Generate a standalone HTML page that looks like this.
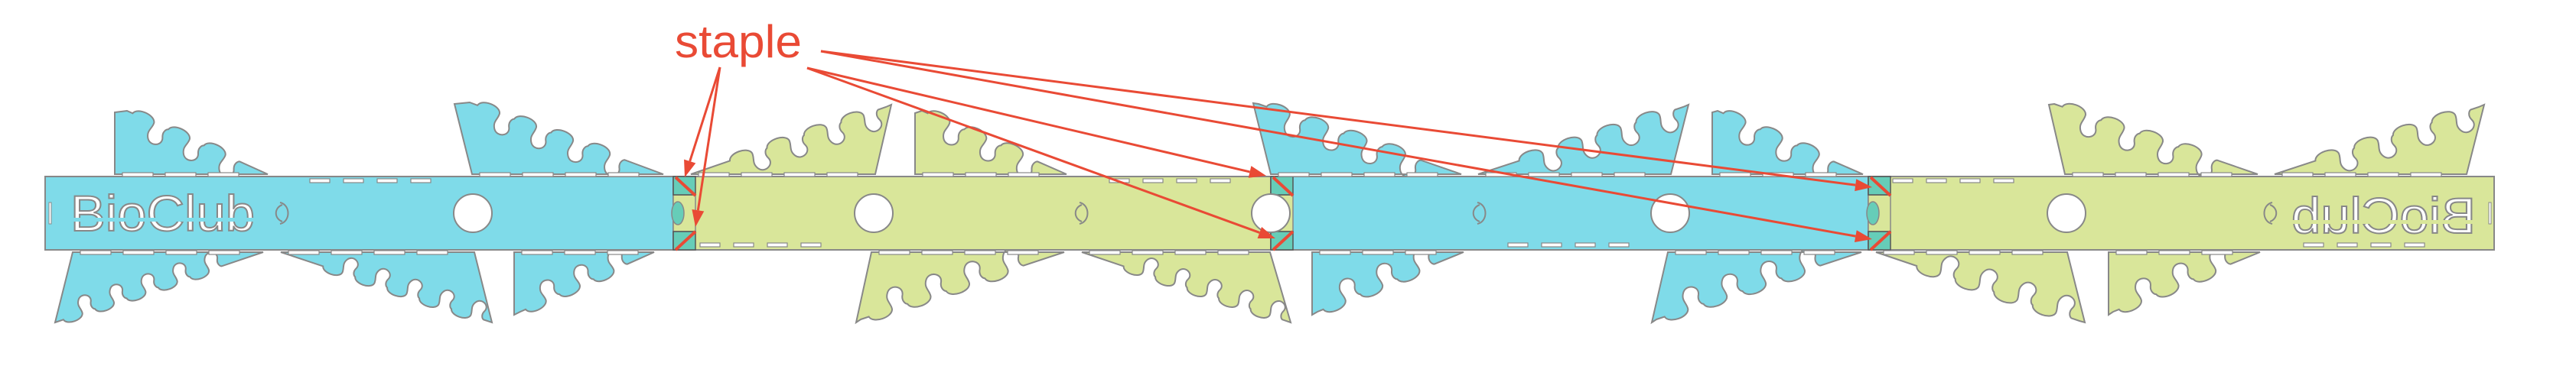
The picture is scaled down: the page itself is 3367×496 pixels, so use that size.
<!DOCTYPE html>
<html><head><meta charset="utf-8"><style>
html,body{margin:0;padding:0;background:#fff;width:3367px;height:496px;overflow:hidden}
svg{display:block}
</style></head><body>
<svg id="c" width="3367" height="496" viewBox="0 0 3367 496" xmlns="http://www.w3.org/2000/svg">
<g id="flaps"></g>
<g id="strips"></g>
<g id="marks"></g>
<g id="arrows"></g>
<text x="882" y="75" font-family="Liberation Sans, sans-serif" font-size="60" fill="#e94a35" textLength="166" lengthAdjust="spacingAndGlyphs">staple</text>
</svg>
<script>
const NS='http://www.w3.org/2000/svg';
const BLUE='#7fdbe9',GREEN='#d9e69a',TEAL='#66cdb8',LINE='#888',RED='#e94a35';
const segStart=[59,880,1661,2442];
const segEnd=[880,1661,2442,3260];
const segColor=[BLUE,GREEN,BLUE,GREEN];
const flapA=[[166,145],[614,134],[72,422],[367,330],[680,408],[903,228],[1205,145],[1125,418],[1414,330],[1645,136],[1932,228],[2245,145],[1722,408],[2165,418],[2685,136],[2973,228],[2452,330],[2762,408]];
const flapB=[[350,228],[867,228],[344,330],[643,422],[855,330],[1158,140],[1394,228],[1391,330],[1687,422],[1910,228],[2200,140],[2435,228],[1913,330],[2433,330],[2951,228],[3240,140],[2718,420],[2954,330]];
const flapExtra=[[[150,228],[150,147]],[[617,228],[594,136]],[[95,330]],[[620,330]],[[672,330],[672,412]],[[1165,137],[1144,228]],[[1196,228],[1196,148]],[[1139,330],[1119,422]],[[1660,330]],[[1661,228],[1638,135]],[[2207,137],[2184,228]],[[2238,228],[2238,147]],[[1715,330],[1715,412]],[[2180,330],[2159,422]],[[2699,228],[2678,137]],[[3247,137],[3224,228]],[[2725,422],[2702,330]],[[2756,330],[2756,412]]];
const flapColor=[BLUE,BLUE,BLUE,BLUE,BLUE,GREEN,GREEN,GREEN,GREEN,BLUE,BLUE,BLUE,BLUE,BLUE,GREEN,GREEN,GREEN,GREEN];
const holeX=[618,1142,1661,2183,2701];
const slotX=[366,1411,1931,2970];
const innerDash=[[405,237],[1450,237],[915,321],[1971,321],[2474,237],[3011,321]];
const joints=[880,1661,2442];
const arrowFrom=[[941,88],[941,88],[1055,89],[1055,89],[1073,67],[1073,67]];
const arrowTo=[[895,232],[909,297],[1655,230],[1667,312],[2447,245],[2447,313]];

const gF=document.getElementById('flaps'),gS=document.getElementById('strips'),gM=document.getElementById('marks'),gA=document.getElementById('arrows');
function mk(tag,attrs,parent){const e=document.createElementNS(NS,tag);for(const k in attrs)e.setAttribute(k,attrs[k]);parent.appendChild(e);return e;}

function scallopPath(A,B,extra){
  const dx=B[0]-A[0],dy=B[1]-A[1],len=Math.hypot(dx,dy);
  const u=[dx/len,dy/len];let n=[-u[1],u[0]];
  let cx=0,cy=0;extra.forEach(p=>{cx+=p[0];cy+=p[1]});cx/=extra.length;cy/=extra.length;
  const mx=(A[0]+B[0])/2,my=(A[1]+B[1])/2;
  if((cx-mx)*n[0]+(cy-my)*n[1]>0)n=[-n[0],-n[1]];
  const tipA=Math.abs(A[1]-279)>Math.abs(B[1]-279);
  const ts=tipA?0.04:0.2, te=tipA?0.8:0.96;
  const sl=len*(te-ts);
  const k=Math.max(3,Math.round(sl/48)),L=sl/k;
  const S=[A[0]+u[0]*len*ts,A[1]+u[1]*len*ts];
  const P=(p,a,b)=>[(p[0]+u[0]*a+n[0]*b).toFixed(1),(p[1]+u[1]*a+n[1]*b).toFixed(1)].join(',');
  let d='M'+A[0]+','+A[1]+' L'+S[0].toFixed(1)+','+S[1].toFixed(1);
  for(let i=0;i<k;i++){
    const p0=[S[0]+u[0]*i*L,S[1]+u[1]*i*L];
    d+=' C'+P(p0,0.05*L,0.2*L)+' '+P(p0,0.55*L,0.2*L)+' '+P(p0,0.6*L,0.0);
    d+=' C'+P(p0,0.62*L,-0.15*L)+' '+P(p0,0.5*L,-0.25*L)+' '+P(p0,0.62*L,-0.42*L);
    d+=' C'+P(p0,0.75*L,-0.6*L)+' '+P(p0,1.05*L,-0.45*L)+' '+P(p0,0.95*L,-0.25*L);
    d+=' C'+P(p0,0.88*L,-0.12*L)+' '+P(p0,0.95*L,-0.02*L)+' '+P(p0,1.0*L,0);
  }
  d+=' L'+B[0]+','+B[1];
  extra.forEach(p=>{d+=' L'+p[0]+','+p[1]});
  return d+' Z';
}
for(let i=0;i<flapA.length;i++){
  const p=mk('path',{d:scallopPath(flapA[i],flapB[i],flapExtra[i]),fill:flapColor[i],stroke:LINE,'stroke-width':2},gF);
  
  
  const pts=[flapA[i],flapB[i]].concat(flapExtra[i]);
  const top=pts.some(q=>q[1]===228);
  const baseY=top?229:331;
  const xs=pts.filter(q=>Math.abs(q[1]-(top?228:330))<3).map(q=>q[0]);
  if(xs.length>=2){
    const x0=Math.min(...xs)+10,x1=Math.max(...xs)-10;
    for(let x=x0;x+40<=x1;x+=56){
      const r=mk('rect',{x:x,y:baseY-3,width:40,height:5,fill:'#fff',stroke:LINE,'stroke-width':1.2},gM);
      
      
    }
  }
}
for(let i=0;i<segStart.length;i++){
  const r=mk('rect',{x:segStart[i],y:231,width:segEnd[i]-segStart[i],height:96,fill:segColor[i],stroke:LINE,'stroke-width':2},gS);
  
  
}
joints.forEach((x,i)=>{
  const g=mk('g',{},gS);
  
  
  mk('rect',{x:x,y:255,width:29,height:48,fill:GREEN,stroke:LINE,'stroke-width':1.5},g);
  mk('ellipse',{cx:x+6,cy:279,rx:8,ry:15,fill:TEAL,stroke:LINE,'stroke-width':1.5},g);
  mk('rect',{x:x,y:231,width:29,height:24,fill:TEAL,stroke:'#555','stroke-width':1.5},g);
  mk('rect',{x:x,y:303,width:29,height:24,fill:TEAL,stroke:'#555','stroke-width':1.5},g);
  mk('line',{x1:x+3,y1:232,x2:x+29,y2:256,stroke:RED,'stroke-width':4},g);
  mk('line',{x1:x+3,y1:327,x2:x+29,y2:303,stroke:RED,'stroke-width':4},g);
});
holeX.forEach(x=>{
  const e=mk('ellipse',{cx:x,cy:279,rx:25,ry:25,fill:'#fff',stroke:LINE,'stroke-width':2},gM);
  
  
});
slotX.forEach((x,i)=>{
  const dir=(i===3)?-1:1;
  const p=mk('path',{d:`M${x},265 C${x+dir*14},268 ${x+dir*14},290 ${x},293 M${x+dir*3},268 C${x-dir*8},272 ${x-dir*8},286 ${x+dir*3},290`,fill:'none',stroke:LINE,'stroke-width':2},gM);
  
  
});
innerDash.forEach(([x0,y])=>{
  for(let k=0;k<4;k++){
    const r=mk('rect',{x:x0+k*44,y:y-3,width:26,height:5,fill:'#fff',stroke:LINE,'stroke-width':1.2},gM);
    
    
  }
});
[[64,265],[3253,265]].forEach(([x,y])=>{
  const r=mk('rect',{x:x,y:y,width:3,height:28,fill:'#fff',stroke:LINE,'stroke-width':1},gM);
  
  
});
const t1=mk('text',{x:92,y:302,'font-family':'Liberation Sans, sans-serif','font-size':66,fill:'#fff',stroke:LINE,'stroke-width':2,textLength:241,lengthAdjust:'spacingAndGlyphs'},gM);
t1.textContent='BioClub';


mk('rect',{x:88,y:285,width:250,height:5,fill:BLUE},gM);
const t2=mk('text',{x:-3236,y:305,transform:'scale(-1,1)','font-family':'Liberation Sans, sans-serif','font-size':66,fill:'#fff',stroke:LINE,'stroke-width':2,textLength:241,lengthAdjust:'spacingAndGlyphs'},gM);
t2.textContent='BioClub';


mk('rect',{x:2990,y:288,width:250,height:5,fill:GREEN},gM);
for(let i=0;i<arrowFrom.length;i++){
  const [x1,y1]=arrowFrom[i],[x2,y2]=arrowTo[i];
  const a=Math.atan2(y2-y1,x2-x1),h=22,w=8;
  const bx=x2-h*Math.cos(a),by=y2-h*Math.sin(a);
  const g=mk('g',{},gA);
  
  
  mk('line',{x1:x1,y1:y1,x2:bx,y2:by,stroke:RED,'stroke-width':3},g);
  mk('polygon',{points:`${x2},${y2} ${bx-w*Math.sin(a)},${by+w*Math.cos(a)} ${bx+w*Math.sin(a)},${by-w*Math.cos(a)}`,fill:RED},g);
}
</script>
</body></html>
